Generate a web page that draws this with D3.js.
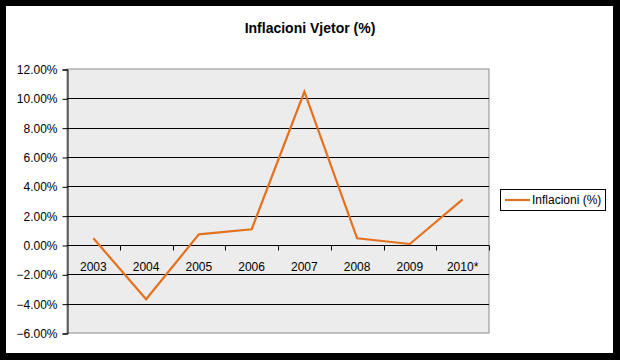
<!DOCTYPE html>
<html lang="en">
<head>
<meta charset="UTF-8">
<title>Inflacioni Vjetor</title>
<style>
  body { margin: 0; background: #000; }
  svg { display: block; }
</style>
</head>
<body>
<svg width="620" height="360" id="viz"></svg>
<script src="https://d3js.org/d3.v7.min.js"></script>
<script>
// data
const years = ["2003", "2004", "2005", "2006", "2007", "2008", "2009", "2010*"];
const inflation = [0.46, -3.70, 0.73, 1.07, 10.45, 0.46, 0.07, 3.11];
const yTicks = [-6, -4, -2, 0, 2, 4, 6, 8, 10, 12];
const seriesName = "Inflacioni (%)";
const chartTitle = "Inflacioni Vjetor (%)";

const svg = d3.select("#viz");
const font = "'Liberation Sans', Arial, sans-serif";

// white chart area inside the black frame
svg.append("rect")
  .attr("x", 6).attr("y", 6)
  .attr("width", 607).attr("height", 347)
  .attr("fill", "#fff");

const plot = {left: 67, top: 69, right: 489, bottom: 333};

const x = d3.scaleBand()
  .domain(years)
  .range([plot.left, plot.right]);

const y = d3.scaleLinear()
  .domain([-6, 12])
  .range([plot.bottom, plot.top]);

// plot background
svg.append("rect")
  .attr("x", plot.left).attr("y", plot.top)
  .attr("width", plot.right - plot.left)
  .attr("height", plot.bottom - plot.top)
  .attr("fill", "#ececec")
  .attr("stroke", "#8c8c8c")
  .attr("stroke-width", 1);

// gridlines
svg.append("g")
  .selectAll("line")
  .data(yTicks.filter(d => d > -6 && d < 12))
  .enter().append("line")
    .attr("x1", plot.left).attr("x2", plot.right)
    .attr("y1", d => Math.round(y(d)) + 0.5)
    .attr("y2", d => Math.round(y(d)) + 0.5)
    .attr("stroke", "#000")
    .attr("stroke-width", 1);

// y axis
const yAxis = d3.axisLeft(y)
  .tickValues(yTicks)
  .tickSize(5)
  .tickPadding(5)
  .tickFormat(d => d3.format(".2f")(d) + "%");

svg.append("g")
  .attr("transform", `translate(${plot.left + 0.5},0.5)`)
  .call(yAxis)
  .call(g => g.select(".domain").attr("stroke", "#000"))
  .call(g => g.selectAll(".tick line").attr("stroke", "#000"))
  .call(g => g.selectAll("text")
    .attr("font-family", font)
    .attr("font-size", 12)
    .attr("fill", "#000"));

// x axis on the zero line, ticks between categories
const zeroY = Math.round(y(0)) + 0.5;
const xAxisG = svg.append("g");
xAxisG.selectAll("line")
  .data(years.slice(1).concat(["end"]))
  .enter().append("line")
    .attr("x1", (d, i) => Math.round(x(years[0]) + x.step() * (i + 1)) + 0.5)
    .attr("x2", (d, i) => Math.round(x(years[0]) + x.step() * (i + 1)) + 0.5)
    .attr("y1", zeroY)
    .attr("y2", zeroY + 5)
    .attr("stroke", "#000");

xAxisG.selectAll("text")
  .data(years)
  .enter().append("text")
    .attr("x", d => x(d) + x.bandwidth() / 2)
    .attr("y", zeroY + 25)
    .attr("text-anchor", "middle")
    .attr("font-family", font)
    .attr("font-size", 12)
    .attr("fill", "#000")
    .text(d => d);

// the line
const line = d3.line()
  .x((d, i) => x(years[i]) + x.bandwidth() / 2)
  .y(d => y(d));

svg.append("path")
  .datum(inflation)
  .attr("d", line)
  .attr("fill", "none")
  .attr("stroke", "#e4711e")
  .attr("stroke-width", 2.2)
  .attr("stroke-linejoin", "miter");

// title
svg.append("text")
  .attr("x", 310).attr("y", 33)
  .attr("text-anchor", "middle")
  .attr("font-family", font)
  .attr("font-size", 14)
  .attr("font-weight", "bold")
  .attr("fill", "#000")
  .text(chartTitle);

// legend
const lg = svg.append("g");
lg.append("rect")
  .attr("x", 500.5).attr("y", 189.5)
  .attr("width", 105).attr("height", 21)
  .attr("fill", "#fff")
  .attr("stroke", "#000");
lg.append("line")
  .attr("x1", 505).attr("x2", 530)
  .attr("y1", 200).attr("y2", 200)
  .attr("stroke", "#e4711e")
  .attr("stroke-width", 2.2);
lg.append("text")
  .attr("x", 532).attr("y", 204)
  .attr("font-family", font)
  .attr("font-size", 12)
  .attr("fill", "#000")
  .text(seriesName);
</script>
</body>
</html>
